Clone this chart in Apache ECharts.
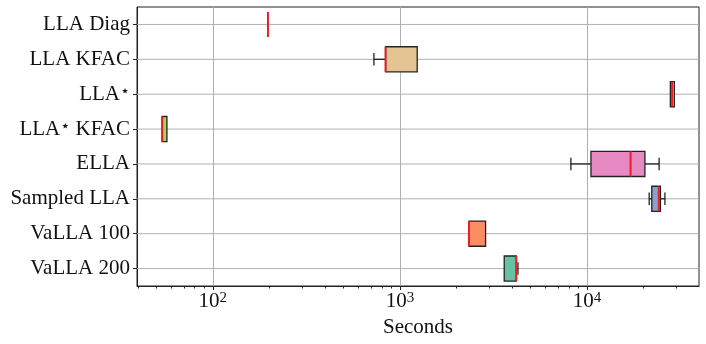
<!DOCTYPE html>
<html><head><meta charset="utf-8">
<script src="https://cdn.jsdelivr.net/npm/echarts@6/dist/echarts.min.js"></script>
<style>html,body{margin:0;padding:0;background:#fff}#c{width:706px;height:344px}</style>
</head><body><div id="c"></div>
<script>
var categories = ['LLA Diag', 'LLA KFAC', 'LLA{s|⋆}', 'LLA{s|⋆} KFAC', 'ELLA', 'Sampled LLA', 'VaLLA 100', 'VaLLA 200'];
var whiskerLow  = [197, 726, 27900, 53.6, 8200, 21500, 2340, 3610];
var quart1      = [197, 838, 27900, 53.6, 10500, 22200, 2340, 3610];
var medians     = [197, 838, 28500, 53.6, 17100, 24200, 2340, 4190];
var quart3      = [197, 1237, 29300, 56.8, 20400, 24700, 2870, 4190];
var whiskerHigh = [197, 1237, 29300, 56.8, 24300, 26100, 2870, 4275];
var boxColors = ['#b3b3b3', '#e5c494', '#ffd92f', '#a6d854', '#e78ac3', '#8da0cb', '#fc8d62', '#66c2a5'];
var majorTicks = [100, 1000, 10000];
var minorTicks = [40, 50, 60, 70, 80, 90, 200, 300, 400, 500, 600, 700, 800, 900,
                  2000, 3000, 4000, 5000, 6000, 7000, 8000, 9000, 20000, 30000];
var xMin = 39.3, xMax = 39700;

var data = categories.map(function (c, i) {
  return [i, whiskerLow[i], quart1[i], medians[i], quart3[i], whiskerHigh[i]];
});

var FONT = 'Liberation Serif';
var chart = echarts.init(document.getElementById('c'), null, {renderer: 'canvas'});
chart.setOption({
  animation: false,
  grid: {left: 137, right: 7, top: 7, bottom: 58, show: true, borderColor: '#222', borderWidth: 1, outerBoundsMode: 'none', containLabel: false},
  xAxis: [{
    type: 'log', min: xMin, max: xMax, position: 'bottom',
    name: 'Seconds', nameLocation: 'middle', nameGap: 31,
    nameTextStyle: {fontFamily: FONT, fontSize: 21, color: '#111'},
    axisLine: {show: true, lineStyle: {color: '#222', width: 1}},
    axisTick: {show: true, length: 4, customValues: majorTicks, lineStyle: {color: '#222'}},
    axisLabel: {
      customValues: majorTicks, margin: 5, color: '#111', fontFamily: FONT, fontSize: 21,
      formatter: function (v) { return '10{s|' + Math.round(Math.log10(v)) + '}'; },
      rich: {s: {fontFamily: FONT, fontSize: 15, verticalAlign: 'top', color: '#111'}}
    },
    splitLine: {show: true, lineStyle: {color: '#b0b0b0', width: 1}}
  }, {
    type: 'log', min: xMin, max: xMax, position: 'bottom',
    axisLine: {show: false},
    axisTick: {show: true, length: 2.5, customValues: minorTicks, lineStyle: {color: '#222'}},
    axisLabel: {show: false},
    splitLine: {show: false}
  }],
  yAxis: {
    type: 'category', data: categories, inverse: true,
    axisLine: {show: true, lineStyle: {color: '#222'}},
    axisTick: {show: true, alignWithLabel: true, length: 4, lineStyle: {color: '#222'}},
    splitLine: {show: false},
    axisLabel: {
      color: '#111', fontFamily: FONT, fontSize: 21, margin: 7,
      rich: {s: {fontFamily: 'DejaVu Sans', fontSize: 16, verticalAlign: 'top', color: '#111'}}
    }
  },
  series: [{
    type: 'custom',
    xAxisIndex: 0,
    encode: {y: 0, x: [1, 2, 3, 4, 5]},
    data: data,
    renderItem: function (params, api) {
      var i = api.value(0);
      var cs = params.coordSys;
      var half = api.size([0, 1])[1] * 0.36;
      var y = api.coord([medians[i], i])[1];
      var xl = api.coord([api.value(1), i])[0];
      var x1 = api.coord([api.value(2), i])[0];
      var xm = api.coord([api.value(3), i])[0];
      var x3 = api.coord([api.value(4), i])[0];
      var xh = api.coord([api.value(5), i])[0];
      var edge = {stroke: '#222', lineWidth: 1.3, fill: null};
      var kids = [
        {type: 'line', shape: {x1: cs.x, y1: y, x2: cs.x + cs.width, y2: y}, style: {stroke: '#b0b0b0', lineWidth: 1}},
        {type: 'line', shape: {x1: xl, y1: y, x2: x1, y2: y}, style: edge},
        {type: 'line', shape: {x1: x3, y1: y, x2: xh, y2: y}, style: edge}
      ];
      if (xl < x1 - 0.5) kids.push({type: 'line', shape: {x1: xl, y1: y - half / 2, x2: xl, y2: y + half / 2}, style: edge});
      if (xh > x3 + 0.5) kids.push({type: 'line', shape: {x1: xh, y1: y - half / 2, x2: xh, y2: y + half / 2}, style: edge});
      if (x3 - x1 > 0.5) {
        kids.push({type: 'rect', shape: {x: x1, y: y - half, width: x3 - x1, height: 2 * half},
          style: {fill: boxColors[i], stroke: '#222', lineWidth: 1.3}});
      }
      kids.push({type: 'line', shape: {x1: xm, y1: y - half, x2: xm, y2: y + half}, style: {stroke: '#ee1c25', lineWidth: 2}});
      return {type: 'group', children: kids};
    }
  }]
});
</script></body></html>
